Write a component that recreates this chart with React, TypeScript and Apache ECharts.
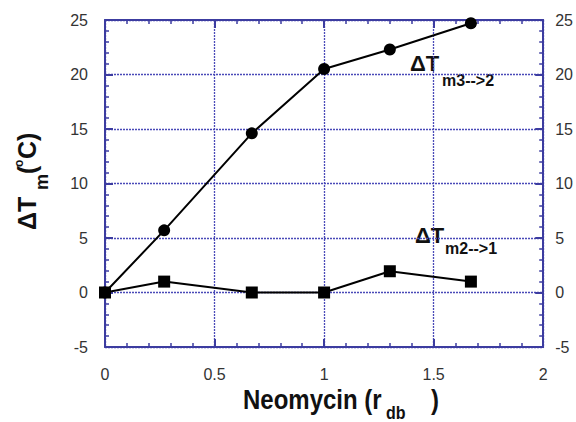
import React, { useEffect, useRef } from "react";
import * as echarts from "echarts";

const xValues = [0, 0.27, 0.67, 1, 1.3, 1.67];
const m3to2 = [0, 5.7, 14.6, 20.5, 22.3, 24.7];
const m2to1 = [0, 1, 0, 0, 1.95, 1];
const xTickInterval = 0.5;
const yTickInterval = 5;

const BLUE = "#3c3ca0";
const FONT = "'Liberation Sans', Arial, Helvetica, sans-serif";

export default function App() {
  const ref = useRef<HTMLDivElement>(null);
  useEffect(() => {
    if (!ref.current) return;
    const chart = echarts.init(ref.current, undefined, { renderer: "svg" });
    const axisCommon = {
      axisLine: { show: true, onZero: false, lineStyle: { color: BLUE, width: 2 } },
      axisTick: { show: true, inside: true, length: 8, lineStyle: { color: BLUE, width: 2 } },
      minorTick: { show: true, splitNumber: 5, length: 4, lineStyle: { color: BLUE, width: 1.5 } },
    };
    const splitLine = { show: true, lineStyle: { type: [2, 1] as any, color: "#4a4ab8", width: 1.3 } };
    const label = { color: "#333", fontSize: 16, fontFamily: FONT };
    const sub = (x: number, y: number, text: string, size: number, scaleY = 1) => ({
      type: "text",
      x,
      y,
      scaleY,
      style: {
        text,
        fontSize: size,
        fontWeight: "bold",
        fontFamily: FONT,
        fill: "#111",
        textAlign: "left",
        textVerticalAlign: "middle",
      },
    });
    chart.setOption({
      animation: false,
      backgroundColor: "#fff",
      grid: { left: 105, right: 31, top: 20, bottom: 75 },
      xAxis: [
        {
          type: "value",
          min: 0,
          max: 2,
          interval: xTickInterval,
          position: "bottom",
          ...axisCommon,
          splitLine,
          axisLabel: { ...label, margin: 19 },
        },
        {
          type: "value",
          min: 0,
          max: 2,
          interval: xTickInterval,
          position: "top",
          ...axisCommon,
          splitLine: { show: false },
          axisLabel: { show: false },
        },
      ],
      yAxis: [
        {
          type: "value",
          min: -5,
          max: 25,
          interval: yTickInterval,
          position: "left",
          ...axisCommon,
          splitLine,
          axisLabel: { ...label, margin: 17 },
        },
        {
          type: "value",
          min: -5,
          max: 25,
          interval: yTickInterval,
          position: "right",
          ...axisCommon,
          splitLine: { show: false },
          axisLabel: { ...label, margin: 12 },
        },
      ],
      series: [
        {
          type: "line",
          data: xValues.map((x, i) => [x, m3to2[i]]),
          symbol: "circle",
          symbolSize: 12,
          lineStyle: { color: "#000", width: 2 },
          itemStyle: { color: "#000" },
          z: 5,
        },
        {
          type: "line",
          data: xValues.map((x, i) => [x, m2to1[i]]),
          symbol: "rect",
          symbolSize: 12,
          lineStyle: { color: "#000", width: 2 },
          itemStyle: { color: "#000" },
          z: 6,
        },
      ],
      graphic: [
        sub(410, 63, "ΔT", 22),
        sub(442, 80, "m3-->2", 16),
        sub(415, 235, "ΔT", 22),
        sub(445, 248, "m2-->1", 16),
        sub(243, 400, "Neomycin (r", 24, 1.12),
        sub(386, 413, "db", 16, 1.12),
        sub(431, 400, ")", 24, 1.12),
        {
          type: "group",
          x: 27,
          y: 230,
          rotation: Math.PI / 2,
          children: [
            sub(0, 0, "ΔT", 25),
            sub(40, 15, "m", 18),
            sub(56, 0, "(", 25),
            sub(63, -8, "o", 12),
            sub(71, 0, "C)", 25),
          ],
        },
      ],
    });
    return () => chart.dispose();
  }, []);
  return (
    <div
      ref={ref}
      style={{ position: "fixed", left: 0, top: 0, width: 576, height: 422 }}
    />
  );
}
